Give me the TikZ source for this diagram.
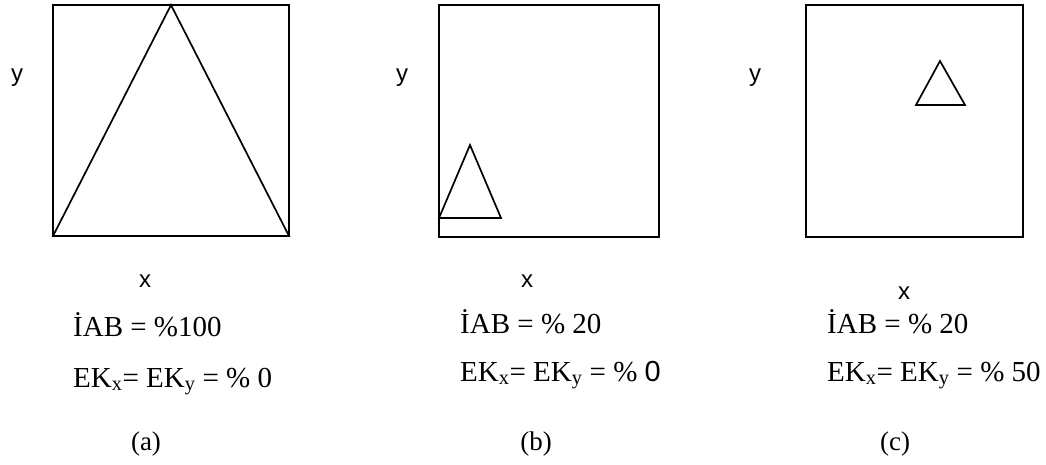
\documentclass[tikz,border=0pt]{standalone}
\usepackage{fontspec}
\setmainfont{Liberation Serif}
\newfontfamily\arialf{Liberation Sans}
\tikzset{
  frame/.style={draw=black,line width=1.8pt},
  tri/.style={draw=black,line width=1.7pt,line join=miter},
  axlab/.style={font=\arialf\fontsize{24}{24}\selectfont,inner sep=0pt},
  row/.style={font=\fontsize{29}{29}\selectfont,anchor=base west,inner sep=0pt},
  caplab/.style={font=\fontsize{27}{27}\selectfont,inner sep=0pt}
}
\begin{document}
\begin{tikzpicture}[x=1pt,y=-1pt]
\useasboundingbox (0,0) rectangle (1046,464);
% (a)
\draw[frame] (53,5) rectangle (289,236);
\draw[tri] (53,236) -- (171,5) -- (289,236) -- cycle;
\node[axlab] (ya) at (17,78) {y};
\node[axlab] (xa) at (145,281) {x};
\node[row] (iaba) at (73,336) {İAB = \%100};
\node[row] (eka) at (73,387) {EK\textsubscript{x}= EK\textsubscript{y} = \% 0};
\node[caplab] (capa) at (146,444) {(a)};
% (b)
\draw[frame] (439,5) rectangle (659,237);
\draw[tri] (439,218) -- (470,145) -- (501,218) -- cycle;
\node[axlab] (yb) at (402,78) {y};
\node[axlab] (xb) at (527,281) {x};
\node[row] (iabb) at (460,333) {İAB = \% 20};
\node[row] (ekb) at (460,381) {EK\textsubscript{x}= EK\textsubscript{y} = \% {\arialf 0}};
\node[caplab] (capb) at (536,444) {(b)};
% (c)
\draw[frame] (806,5) rectangle (1023,237);
\draw[tri] (916,105) -- (940,61) -- (965,105) -- cycle;
\node[axlab] (yc) at (755,78) {y};
\node[axlab] (xc) at (904,293) {x};
\node[row] (iabc) at (827,333) {İAB = \% 20};
\node[row] (ekc) at (827,381) {EK\textsubscript{x}= EK\textsubscript{y} = \% 50};
\node[caplab] (capc) at (895,444) {(c)};
\end{tikzpicture}
\end{document}
